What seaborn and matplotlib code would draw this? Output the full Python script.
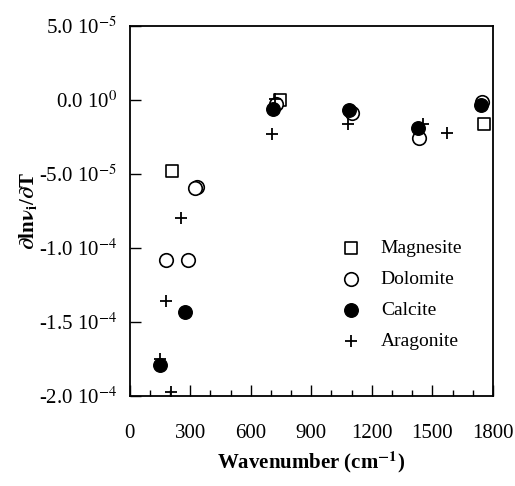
import numpy as np
import pandas as pd
import matplotlib
matplotlib.use("Agg")
import matplotlib.pyplot as plt
import seaborn as sns
from matplotlib.ticker import MultipleLocator, FixedLocator

# values (wavenumber in cm-1, dlnv/dT in 1/K)
magnesite_x = [208, 745, 1755]
magnesite_y = [-4.8e-5, 0.0, -1.65e-5]

dolomite_x = [178, 288, 332, 325, 725, 1100, 1433, 1745]
dolomite_y = [-1.08e-4, -1.08e-4, -5.85e-5, -5.95e-5, -0.3e-5, -0.85e-5, -2.55e-5, -0.15e-5]

calcite_x = [150, 273, 712, 1086, 1430, 1740]
calcite_y = [-1.79e-4, -1.43e-4, -0.6e-5, -0.7e-5, -1.9e-5, -0.35e-5]

aragonite_x = [150, 178, 205, 253, 705, 718, 1081, 1453, 1571]
aragonite_y = [-1.75e-4, -1.36e-4, -1.97e-4, -8.0e-5, -2.3e-5, 0.1e-5, -1.6e-5, -1.6e-5, -2.2e-5]

y_ticks = [5e-5, 0.0, -5e-5, -1e-4, -1.5e-4, -2e-4]
y_ticklabels = ['5.0 10$^{-5}$', '0.0 10$^{0}$', '-5.0 10$^{-5}$',
                '-1.0 10$^{-4}$', '-1.5 10$^{-4}$', '-2.0 10$^{-4}$']

sns.set_style("white")
plt.rcParams['font.family'] = ['Liberation Serif', 'DejaVu Serif']
plt.rcParams['mathtext.fontset'] = 'stix'
plt.rcParams['text.color'] = 'black'
plt.rcParams['axes.labelcolor'] = 'black'
plt.rcParams['xtick.color'] = 'black'
plt.rcParams['ytick.color'] = 'black'

fig = plt.figure(figsize=(5.15, 4.86), dpi=100)
ax = fig.add_axes([0.252, 0.185, 0.705, 0.7615])

sns.scatterplot(x=magnesite_x, y=magnesite_y, marker='s', s=65, facecolor='white',
                edgecolor='black', linewidth=1.2, label='Magnesite', ax=ax)
sns.scatterplot(x=dolomite_x, y=dolomite_y, marker='o', s=95, facecolor='white',
                edgecolor='black', linewidth=1.2, label='Dolomite', ax=ax)
sns.scatterplot(x=calcite_x, y=calcite_y, marker='o', s=95, facecolor='black',
                edgecolor='black', linewidth=1.0, label='Calcite', ax=ax)
sns.scatterplot(x=aragonite_x, y=aragonite_y, marker='+', s=80, color='black',
                linewidth=1.3, label='Aragonite', ax=ax)

ax.set_xlim(0, 1800)
ax.set_ylim(-2e-4, 5e-5)
ax.xaxis.set_major_locator(MultipleLocator(300))
ax.xaxis.set_minor_locator(MultipleLocator(100))
ax.yaxis.set_major_locator(FixedLocator(y_ticks))
ax.set_yticklabels(y_ticklabels)
ax.tick_params(axis='both', which='major', direction='in', length=8, width=1,
               labelsize=15, color='black', labelcolor='black')
ax.tick_params(axis='x', which='major', pad=20)
ax.tick_params(axis='y', which='major', pad=9)
ax.tick_params(axis='x', which='minor', direction='in', length=4, width=1, bottom=True)
ax.tick_params(bottom=True, left=True, top=False, right=False)
for sp in ax.spines.values():
    sp.set_color('black')
    sp.set_linewidth(1.3)

ax.set_xlabel('Wavenumber (cm$^{\\mathbf{-1}}$)', fontsize=15, fontweight='bold', labelpad=5)
ax.set_ylabel(r'$\mathbf{\partial}$' + 'ln' + r'$\mathbf{\nu_i}$' + '/' + r'$\mathbf{\partial}$' + 'T',
              fontsize=15, fontweight='bold', labelpad=0)

leg = ax.legend(loc='upper left', bbox_to_anchor=(0.52, 0.47), frameon=False,
                fontsize=14, labelspacing=0.68, handletextpad=0.8, handlelength=1.5)

fig.savefig('out.png', dpi=100)
